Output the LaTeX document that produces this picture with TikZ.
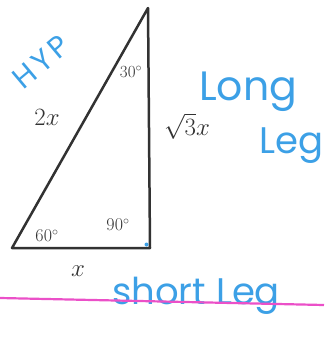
\documentclass[tikz,border=0pt]{standalone}
\usepackage{fontspec}
\newfontfamily\hand{Poppins}
\definecolor{penblue}{RGB}{60,160,230}
\definecolor{penpink}{RGB}{235,80,200}
\definecolor{ink}{RGB}{50,50,50}
\begin{document}
\begin{tikzpicture}[x=1pt,y=-1pt,
  lbl/.style={text=ink,font=\fontsize{#1}{#1}\selectfont,inner sep=0pt},
  lbl/.default=24,
  ang/.style={text=ink,font=\fontsize{#1}{#1}\selectfont,inner sep=0pt},
  ang/.default=17,
  hw/.style={text=penblue,font=\hand\fontsize{#1}{#1}\selectfont,inner sep=0pt},
  hw/.default=30]
\useasboundingbox (0,0) rectangle (324,337);
\coordinate (T) at (148,8);
\coordinate (L) at (12,248);
\coordinate (R) at (150,248);
\draw[ink,line width=2.5pt,line join=round] (T) -- (L) -- (R) -- cycle;
\fill[penblue] (146.5,244.5) circle (2);
\node[lbl] (hyp2x) at (47,117) {$2x$};
\node[lbl=24] (long3x) at (187,126) {$\sqrt{3}x$};
\node[lbl=38] (shortx) at (78,271) {$x$};
\node[ang] (a30) at (131,72) {30$^\circ$};
\node[ang=18] (a60) at (47,236) {60$^\circ$};
\node[ang=18] (a90) at (118,225) {90$^\circ$};
\node[hw=30,rotate=40] (hyp) at (41,62) {\addfontfeature{LetterSpace=12}HYP};
\node[hw=41,anchor=base west] (long) at (199,100) {Long};
\node[hw=37,anchor=base west] (leg) at (259,153) {Leg};
\node[hw=37,anchor=base west] (short) at (112,304) {short Leg};
\draw[penpink,line width=2.2pt] (0,298) -- (324,305);
\end{tikzpicture}
\end{document}
